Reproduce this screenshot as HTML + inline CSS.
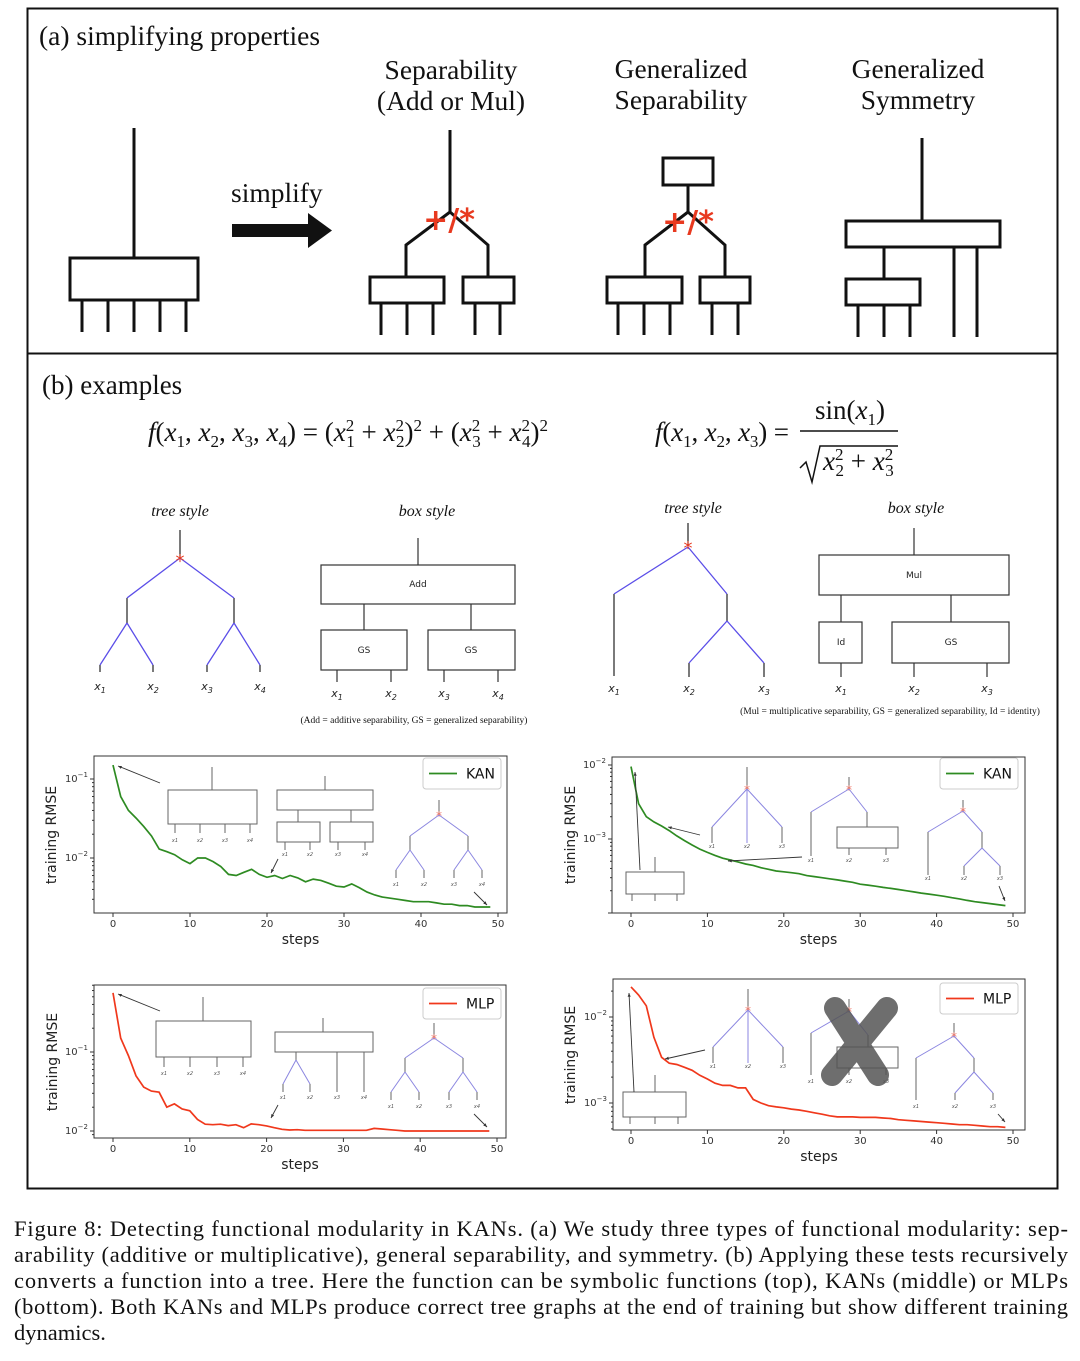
<!DOCTYPE html>
<html><head><meta charset="utf-8">
<style>
html,body{margin:0;padding:0;background:#fff;}
svg{display:block;}
.serif{font-family:"Liberation Serif",serif;}
.sans{font-family:"DejaVu Sans","Liberation Sans",sans-serif;}
</style></head>
<body>
<svg id="fig" width="1080" height="1361" viewBox="0 0 1080 1361" xmlns="http://www.w3.org/2000/svg">
<rect x="0" y="0" width="1080" height="1361" fill="#fff"/>
<rect x="27.5" y="8.5" width="1030" height="1180" fill="none" stroke="#111" stroke-width="2"/>
<line x1="27" y1="353.5" x2="1058" y2="353.5" stroke="#111" stroke-width="2"/>

<g class="serif" font-size="27.5" fill="#111">
<text x="39" y="45">(a) simplifying properties</text>
<text x="451" y="79" text-anchor="middle">Separability</text>
<text x="451" y="110" text-anchor="middle">(Add or Mul)</text>
<text x="681" y="78" text-anchor="middle">Generalized</text>
<text x="681" y="109" text-anchor="middle">Separability</text>
<text x="918" y="78" text-anchor="middle">Generalized</text>
<text x="918" y="109" text-anchor="middle">Symmetry</text>
<text x="231" y="202">simplify</text>
</g>
<g stroke="#111" stroke-width="3" fill="none">
<line x1="134" y1="128" x2="134" y2="258"/>
<rect x="70" y="258" width="128" height="42"/>
<path d="M82 300V332M108 300V332M134 300V332M160 300V332M186 300V332"/>
<path d="M450 130V212M450 212L406 245V277M450 212L488 245V277"/>
<rect x="370" y="277" width="74" height="26"/>
<rect x="463" y="277" width="51" height="26"/>
<path d="M381 303V335M407 303V335M433 303V335M475 303V335M500 303V335"/>
<rect x="663" y="158" width="50" height="27"/>
<path d="M688 185V212M688 212L645 245V277M688 212L725 245V277"/>
<rect x="607" y="277" width="75" height="26"/>
<rect x="700" y="277" width="50" height="26"/>
<path d="M618 303V335M644 303V335M670 303V335M712 303V335M738 303V335"/>
<path d="M922 138V221"/>
<rect x="846" y="221" width="154" height="26"/>
<path d="M884 247V279"/>
<rect x="846" y="279" width="74" height="26"/>
<path d="M858 305V337M884 305V337M910 305V337M954 247V337M977 247V337"/>
</g>
<g>
<rect x="232" y="224" width="80" height="13" fill="#111"/>
<polygon points="308,213 332,230.5 308,248" fill="#111"/>
</g>
<g class="sans" font-size="30" font-weight="bold" fill="#e8391f">
<text x="449" y="230" text-anchor="middle">+/*</text>
<text x="688" y="232" text-anchor="middle">+/*</text>
</g>

<g class="serif" fill="#111">
<text x="42" y="394" font-size="27">(b) examples</text>
<text x="148" y="441" font-size="27" textLength="400"><tspan font-style="italic">f</tspan>(<tspan font-style="italic">x</tspan><tspan font-size="17" dy="6">1</tspan><tspan dy="-6">, </tspan><tspan font-style="italic">x</tspan><tspan font-size="17" dy="6">2</tspan><tspan dy="-6">, </tspan><tspan font-style="italic">x</tspan><tspan font-size="17" dy="6">3</tspan><tspan dy="-6">, </tspan><tspan font-style="italic">x</tspan><tspan font-size="17" dy="6">4</tspan><tspan dy="-6">) = (</tspan><tspan font-style="italic">x</tspan><tspan font-size="17" dy="-10">2</tspan><tspan font-size="17" dx="-8" dy="16">1</tspan><tspan dy="-6"> + </tspan><tspan font-style="italic">x</tspan><tspan font-size="17" dy="-10">2</tspan><tspan font-size="17" dx="-8" dy="16">2</tspan><tspan dy="-6">)</tspan><tspan font-size="17" dy="-10">2</tspan><tspan dy="10"> + (</tspan><tspan font-style="italic">x</tspan><tspan font-size="17" dy="-10">2</tspan><tspan font-size="17" dx="-8" dy="16">3</tspan><tspan dy="-6"> + </tspan><tspan font-style="italic">x</tspan><tspan font-size="17" dy="-10">2</tspan><tspan font-size="17" dx="-8" dy="16">4</tspan><tspan dy="-6">)</tspan><tspan font-size="17" dy="-10">2</tspan></text>
<text x="655" y="441" font-size="27" textLength="134"><tspan font-style="italic">f</tspan>(<tspan font-style="italic">x</tspan><tspan font-size="17" dy="6">1</tspan><tspan dy="-6">, </tspan><tspan font-style="italic">x</tspan><tspan font-size="17" dy="6">2</tspan><tspan dy="-6">, </tspan><tspan font-style="italic">x</tspan><tspan font-size="17" dy="6">3</tspan><tspan dy="-6">) =</tspan></text>
<text x="815" y="419" font-size="27">sin(<tspan font-style="italic">x</tspan><tspan font-size="17" dy="6">1</tspan><tspan dy="-6">)</tspan></text>
<line x1="800" y1="431" x2="898" y2="431" stroke="#111" stroke-width="1.5"/>
<path d="M800 468 L806 462 L812 482 L820 446 H898" fill="none" stroke="#111" stroke-width="1.5"/>
<text x="823" y="470" font-size="27"><tspan font-style="italic">x</tspan><tspan font-size="17" dy="-10">2</tspan><tspan font-size="17" dx="-8" dy="16">2</tspan><tspan dy="-6"> + </tspan><tspan font-style="italic">x</tspan><tspan font-size="17" dy="-10">2</tspan><tspan font-size="17" dx="-8" dy="16">3</tspan></text>
<g font-size="16" font-style="italic" text-anchor="middle">
<text x="180" y="516">tree style</text>
<text x="427" y="516">box style</text>
<text x="693" y="513">tree style</text>
<text x="916" y="513">box style</text>
</g>
<g font-size="9.5" text-anchor="middle">
<text x="414" y="723">(Add = additive separability, GS = generalized separability)</text>
<text x="890" y="714">(Mul = multiplicative separability, GS = generalized separability, Id = identity)</text>
</g>
</g>
<g fill="none" stroke-width="1.3">
<path d="M180 530V558M127 598V623M234 598V623M100 665V672M153 665V672M207 665V672M260 665V672" stroke="#333"/>
<path d="M180 558L127 598M180 558L234 598M127 623L100 665M127 623L153 665M234 623L207 665M234 623L260 665" stroke="#5b4ee8"/>
</g>
<g fill="none" stroke-width="1.3">
<path d="M688 523V545M614 594V676M727 594V621M689 663V677M764 663V677" stroke="#333"/>
<path d="M688 547L614 594M688 547L727 594M727 621L689 663M727 621L764 663" stroke="#5b4ee8"/>
</g>
<g font-size="18" fill="#e8391f" class="sans" text-anchor="middle">
<text x="180" y="567">*</text><text x="688" y="554">*</text>
</g>
<g class="sans" font-size="11" font-style="italic" fill="#222" text-anchor="middle">
<text x="100" y="690">x<tspan font-size="8" dy="3">1</tspan></text><text x="153" y="690">x<tspan font-size="8" dy="3">2</tspan></text><text x="207" y="690">x<tspan font-size="8" dy="3">3</tspan></text><text x="260" y="690">x<tspan font-size="8" dy="3">4</tspan></text>
<text x="337" y="697">x<tspan font-size="8" dy="3">1</tspan></text><text x="391" y="697">x<tspan font-size="8" dy="3">2</tspan></text><text x="444" y="697">x<tspan font-size="8" dy="3">3</tspan></text><text x="498" y="697">x<tspan font-size="8" dy="3">4</tspan></text>
<text x="614" y="692">x<tspan font-size="8" dy="3">1</tspan></text><text x="689" y="692">x<tspan font-size="8" dy="3">2</tspan></text><text x="764" y="692">x<tspan font-size="8" dy="3">3</tspan></text>
<text x="841" y="692">x<tspan font-size="8" dy="3">1</tspan></text><text x="914" y="692">x<tspan font-size="8" dy="3">2</tspan></text><text x="987" y="692">x<tspan font-size="8" dy="3">3</tspan></text>
</g>
<g fill="none" stroke="#333" stroke-width="1.2">
<path d="M418 538V565M364 604V630M471 604V630M337 670V682M391 670V682M444 670V682M498 670V682"/>
<rect x="321" y="565" width="194" height="39"/>
<rect x="321" y="630" width="86" height="40"/>
<rect x="428" y="630" width="87" height="40"/>
<path d="M914 528V555M841 595V622M951 595V622M841 663V677M914 663V677M987 663V677"/>
<rect x="819" y="555" width="190" height="40"/>
<rect x="819" y="622" width="43" height="41"/>
<rect x="892" y="622" width="117" height="41"/>
</g>
<g class="sans" font-size="9" fill="#222" text-anchor="middle">
<text x="418" y="587">Add</text><text x="364" y="653">GS</text><text x="471" y="653">GS</text>
<text x="914" y="578">Mul</text><text x="841" y="645">Id</text><text x="951" y="645">GS</text>
</g>

<g id="charts"></g>

<g class="serif" font-size="22.5" fill="#111">
<text x="14" y="1236" textLength="1054" lengthAdjust="spacing">Figure 8: Detecting functional modularity in KANs. (a) We study three types of functional modularity: sep-</text>
<text x="14" y="1262" textLength="1054" lengthAdjust="spacing">arability (additive or multiplicative), general separability, and symmetry. (b) Applying these tests recursively</text>
<text x="14" y="1288" textLength="1054" lengthAdjust="spacing">converts a function into a tree. Here the function can be symbolic functions (top), KANs (middle) or MLPs</text>
<text x="14" y="1314" textLength="1054" lengthAdjust="spacing">(bottom). Both KANs and MLPs produce correct tree graphs at the end of training but show different training</text>
<text x="14" y="1340">dynamics.</text>
</g>
</svg>
<script>
const steps = Array.from({length:50},(_, i)=>i);
const kanAdd = [0.15,0.06,0.04,0.032,0.025,0.019,0.013,0.012,0.011,0.0095,0.0085,0.01,0.01,0.009,0.0078,0.0062,0.006,0.0066,0.0072,0.0062,0.0057,0.006,0.0055,0.006,0.0056,0.005,0.0054,0.0052,0.0048,0.0044,0.0043,0.0047,0.0042,0.0037,0.0034,0.0032,0.0031,0.003,0.0029,0.0028,0.0028,0.0028,0.0027,0.0026,0.0026,0.0025,0.0025,0.0024,0.0024,0.0024];
const kanMul = [0.0095,0.003,0.002,0.0017,0.0015,0.0013,0.0011,0.00095,0.00083,0.00073,0.00066,0.0006,0.00055,0.00052,0.00049,0.00046,0.00044,0.00041,0.00039,0.00037,0.00036,0.00035,0.00034,0.00032,0.00031,0.0003,0.00029,0.00028,0.00027,0.00026,0.000245,0.000238,0.00023,0.000222,0.000215,0.000208,0.0002,0.000193,0.000186,0.00018,0.000174,0.000168,0.000161,0.000155,0.000148,0.000142,0.000138,0.000134,0.00013,0.000126];
const mlpAdd = [0.56,0.15,0.09,0.05,0.036,0.032,0.031,0.02,0.022,0.019,0.018,0.014,0.0122,0.012,0.0122,0.0117,0.012,0.011,0.0123,0.012,0.0116,0.011,0.0105,0.0103,0.0104,0.0102,0.0102,0.0102,0.0102,0.0102,0.0102,0.0102,0.0102,0.0102,0.0108,0.0106,0.0104,0.0102,0.01,0.01,0.01,0.01,0.01,0.01,0.01,0.01,0.01,0.01,0.01,0.01];
const mlpMul = [0.0224,0.018,0.0135,0.0058,0.0034,0.0029,0.0028,0.0026,0.0024,0.0021,0.0019,0.0017,0.0016,0.0016,0.0015,0.0015,0.0011,0.001,0.00093,0.0009,0.00088,0.00085,0.00083,0.0008,0.00077,0.00074,0.00071,0.00069,0.00069,0.00069,0.00068,0.00068,0.00068,0.00067,0.00066,0.00064,0.00063,0.00062,0.00061,0.0006,0.00059,0.00058,0.00057,0.00056,0.00056,0.00055,0.00054,0.00053,0.00053,0.00052];
const xTicks = [0,10,20,30,40,50];
const yTicksAdd = [-1,-2];
const yTicksMul = [-2,-3];
const legendKan = "KAN";
const legendMlp = "MLP";

const NS="http://www.w3.org/2000/svg";
const root=document.getElementById('charts');
function mk(tag,attrs,parent){const e=document.createElementNS(NS,tag);for(const k in attrs)e.setAttribute(k,attrs[k]);(parent||root).appendChild(e);return e;}

function chart(name,g,vals,yTicks,label,color){
  const grp=mk('g',{});
  
  
  const xs=s=>g.x0+(g.x50-g.x0)*s/50;
  const ys=v=>g.refPx-g.dec*(Math.log10(v)-g.refExp);
  const frame=mk('rect',{x:g.l,y:g.t,width:g.r-g.l,height:g.b-g.t,fill:'none',stroke:'#333','stroke-width':1},grp);
  
  
  xTicks.forEach(t=>{
    const x=xs(t);
    mk('line',{x1:x,y1:g.b,x2:x,y2:g.b+4,stroke:'#333'},grp);
    const tx=mk('text',{x:x,y:g.b+14,'font-size':10,'text-anchor':'middle',fill:'#333','font-family':'DejaVu Sans, sans-serif'},grp);
    tx.textContent=t;
    
    
  });
  const lo=Math.floor(g.refExp-(g.b-g.refPx)/g.dec)-1, hi=Math.ceil(g.refExp+(g.refPx-g.t)/g.dec)+1;
  for(let e=lo;e<=hi;e++){for(let m=1;m<10;m++){const y=ys(m*Math.pow(10,e));if(y<g.t||y>g.b)continue;
    mk('line',{x1:g.l-(m===1?4:2),y1:y,x2:g.l,y2:y,stroke:'#333'},grp);}}
  yTicks.forEach(e=>{
    const y=ys(Math.pow(10,e));
    const tx=mk('text',{x:g.l-6,y:y+3,'font-size':10,'text-anchor':'end',fill:'#333','font-family':'DejaVu Sans, sans-serif'},grp);
    
    
    tx.textContent='10';
    const sp=mk('tspan',{'font-size':7,dy:-5},tx); sp.textContent='\u2212'+(-e);
  });
  const yl=mk('text',{x:g.yl[0],y:g.yl[1],'font-size':14,'text-anchor':'middle',fill:'#222','font-family':'DejaVu Sans, sans-serif',transform:`rotate(-90 ${g.yl[0]} ${g.yl[1]})`},grp);
  yl.textContent='training RMSE';
  
  
  const xl=mk('text',{x:(g.l+g.r)/2,y:g.b+31,'font-size':14,'text-anchor':'middle',fill:'#222','font-family':'DejaVu Sans, sans-serif'},grp);
  xl.textContent='steps';
  
  
  const d=vals.map((v,i)=>(i?'L':'M')+xs(steps[i]).toFixed(1)+' '+ys(v).toFixed(1)).join('');
  const p=mk('path',{d:d,fill:'none',stroke:color,'stroke-width':1.7},grp);
  
  
  const L=g.leg;
  const lb=mk('rect',{x:L[0],y:L[1],width:78,height:31,rx:3,fill:'#fff',stroke:'#ccc'},grp);
  
  
  mk('line',{x1:L[0]+6,y1:L[1]+15.5,x2:L[0]+34,y2:L[1]+15.5,stroke:color,'stroke-width':1.7},grp);
  const lt=mk('text',{x:L[0]+43,y:L[1]+20.5,'font-size':14,fill:'#111','font-family':'DejaVu Sans, sans-serif'},grp);
  lt.textContent=label;
  
  
}
chart('chart-kan-additive',{l:94,r:507,t:756,b:913,x0:113,x50:498,refExp:-1,refPx:779,dec:79,yl:[56,835],leg:[423,758]},kanAdd,yTicksAdd,legendKan,'#2e8b22');
chart('chart-kan-multiplicative',{l:612,r:1025,t:757,b:913,x0:631,x50:1013,refExp:-2,refPx:765,dec:74,yl:[575,835],leg:[940,758]},kanMul,yTicksMul,legendKan,'#2e8b22');
chart('chart-mlp-additive',{l:94,r:506,t:985,b:1138,x0:113,x50:497,refExp:-1,refPx:1052,dec:79,yl:[57,1062],leg:[423,988]},mlpAdd,yTicksAdd,legendMlp,'#f0381c');
chart('chart-mlp-multiplicative',{l:613,r:1025,t:979,b:1130,x0:631,x50:1013,refExp:-2,refPx:1017,dec:86,yl:[575,1055],leg:[940,983]},mlpMul,yTicksMul,legendMlp,'#f0381c');

const G='#666', B='#8b86e0';
function ln(d,c,w){const p=mk('path',{d:d,fill:'none',stroke:c,'stroke-width':w||1});}
function rc(x,y,w,h){const r=mk('rect',{x:x,y:y,width:w,height:h,fill:'none',stroke:G,'stroke-width':1});}
function star(x,y){const t=mk('text',{x:x,y:y+5,'font-size':12,fill:'#f07060','text-anchor':'middle','font-family':'DejaVu Sans, sans-serif'});t.textContent='*';}
function lab(xs,y,n){xs.forEach((x,i)=>{const t=mk('text',{x:x,y:y,'font-size':5,fill:'#555','text-anchor':'middle','font-style':'italic','font-family':'DejaVu Sans, sans-serif'});t.textContent='x'+(i+1);});}
function arrow(x1,y1,x2,y2){ln(`M${x1} ${y1}L${x2} ${y2}`,'#333',0.9);const a=Math.atan2(y2-y1,x2-x1),s=4;
 mk('polygon',{points:`${x2},${y2} ${x2-s*Math.cos(a-0.4)},${y2-s*Math.sin(a-0.4)} ${x2-s*Math.cos(a+0.4)},${y2-s*Math.sin(a+0.4)}`,fill:'#333'});}
function tree4(cx,top,sy,dx,dy){ln(`M${cx} ${top}V${sy}`,G);star(cx,sy);
 ln(`M${cx} ${sy}L${cx-dx} ${sy+dy}M${cx} ${sy}L${cx+dx} ${sy+dy}`,B);
 ln(`M${cx-dx} ${sy+dy}V${sy+dy+14}M${cx+dx} ${sy+dy}V${sy+dy+14}`,G);
 const y2=sy+dy+14;ln(`M${cx-dx} ${y2}L${cx-dx-14} ${y2+20}M${cx-dx} ${y2}L${cx-dx+14} ${y2+20}M${cx+dx} ${y2}L${cx+dx-14} ${y2+20}M${cx+dx} ${y2}L${cx+dx+14} ${y2+20}`,B);
 ln(`M${cx-dx-14} ${y2+20}v8M${cx-dx+14} ${y2+20}v8M${cx+dx-14} ${y2+20}v8M${cx+dx+14} ${y2+20}v8`,G);lab([cx-dx-14,cx-dx+14,cx+dx-14,cx+dx+14],y2+36);}
rc(168,790,89,34);ln('M212 767V790M175 824v9M200 824v9M225 824v9M250 824v9',G);lab([175,200,225,250],842);
rc(277,790,96,20);ln('M325 776V790M298 810V822M351 810V822',G);rc(277,822,43,20);rc(330,822,43,20);ln('M285 842v8M310 842v8M338 842v8M365 842v8',G);lab([285,310,338,365],856);
tree4(439,800,815,29,21);
arrow(160,783,118,766);arrow(278,859,271,873);arrow(474,892,487,905);
ln('M747 767V789',G);star(747,789);ln('M747 789L712 827M747 789V843M747 789L782 827',B);ln('M712 827V843M782 827V843',G);lab([712,747,782],848);
ln('M849 777V789',G);star(849,789);ln('M849 789L811 812M849 789L867 812',B);ln('M811 812V856M867 812V827',G);rc(837,827,61,21);ln('M849 848v7M886 848v7',G);lab([811,849,886],862);
ln('M963 800V811',G);star(963,811);ln('M963 811L928 832M963 811L982 832',B);ln('M928 832V875M982 832V848',G);ln('M982 848L964 866M982 848L1000 866',B);ln('M964 866v9M1000 866v9',G);lab([928,964,1000],880);
rc(626,872,58,22);ln('M655 857V872M632 894v7M655 894v7M677 894v7',G);
arrow(640,870,635,772);arrow(700,835,668,827);arrow(802,857,728,861);arrow(999,886,1005,901);
rc(156,1021,95,36);ln('M203 997V1021M164 1057v10M190 1057v10M217 1057v10M243 1057v10',G);lab([164,190,217,243],1075);
rc(275,1032,98,20);ln('M323 1018V1032M296 1052V1060M337 1052V1092M364 1052V1092',G);ln('M296 1060L283 1084M296 1060L310 1084',B);ln('M283 1084v8M310 1084v8',G);lab([283,310,337,364],1099);
tree4(434,1023,1038,29,20);
arrow(160,1011,118,994);arrow(278,1105,271,1118);arrow(474,1114,487,1127);
ln('M748 989V1010',G);star(748,1010);ln('M748 1010L713 1047M748 1010V1063M748 1010L783 1047',B);ln('M713 1047V1063M783 1047V1063',G);lab([713,748,783],1068);
ln('M849 999V1010',G);star(849,1011);ln('M849 1011L811 1033M849 1011L868 1035',B);ln('M811 1033V1075M868 1035V1047',G);rc(837,1047,61,21);ln('M849 1068v7M886 1068v7',G);lab([811,849,886],1083);
mk('path',{d:'M835 1008L878 1075M887 1008L832 1075',stroke:'#555','stroke-width':22,'stroke-linecap':'round',opacity:0.85,fill:'none'});
ln('M954 1023V1036',G);star(954,1036);ln('M954 1036L916 1058M954 1036L974 1058',B);ln('M916 1058V1100M974 1058V1072',G);ln('M974 1072L955 1093M974 1072L993 1093',B);ln('M955 1093v7M993 1093v7',G);lab([916,955,993],1108);
rc(623,1092,63,25);ln('M655 1075V1092M630 1117v7M655 1117v7M678 1117v7',G);
arrow(634,1092,629,993);arrow(705,1050,665,1059);arrow(998,1114,1005,1122);
</script>
</body></html>
